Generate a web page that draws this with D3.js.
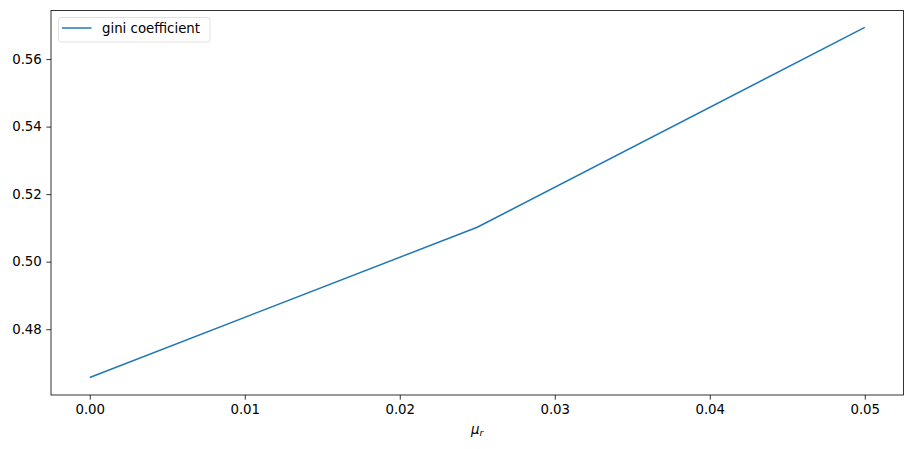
<!DOCTYPE html>
<html><head><meta charset="utf-8">
<script src="https://cdn.jsdelivr.net/npm/d3@7"></script>
<style>body{margin:0;background:#fff}svg{display:block}text{font-family:"DejaVu Sans",sans-serif}</style>
</head><body>
<svg id="c" width="913" height="449"></svg>
<script>
const muR = [0.0, 0.025, 0.05];
const gini = [0.4657, 0.5102, 0.5694];
const xTicks = [0.00, 0.01, 0.02, 0.03, 0.04, 0.05];
const yTicks = [0.48, 0.50, 0.52, 0.54, 0.56];
const seriesName = "gini coefficient";

const svg = d3.select("#c");
const L = 51, R = 903.5, T = 10.5, B = 395;
const x = d3.scaleLinear().domain([-0.0025, 0.0525]).range([L, R]);
const y = d3.scaleLinear().domain([0.46052, 0.57438]).range([B, T]);

const xAxis = svg.append("g").attr("transform", `translate(0,${B})`)
  .call(d3.axisBottom(x).tickValues(xTicks).tickFormat(d3.format(".2f")).tickSizeOuter(0).tickSize(4.67).tickPadding(4.5));
const yAxis = svg.append("g").attr("transform", `translate(${L},0)`)
  .call(d3.axisLeft(y).tickValues(yTicks).tickFormat(d3.format(".2f")).tickSizeOuter(0).tickSize(4.67).tickPadding(4.5));
[xAxis, yAxis].forEach(g => {
  g.select(".domain").remove();
  g.selectAll("text").attr("font-size", "13.33px").attr("fill", "#000").attr("font-family", "DejaVu Sans");
  g.selectAll("line").attr("stroke", "#000").attr("stroke-width", 0.8);
});

svg.append("path").datum(muR.map((d, i) => [d, gini[i]]))
  .attr("fill", "none").attr("stroke", "#1f77b4").attr("stroke-width", 1.5).attr("stroke-linejoin", "round")
  .attr("d", d3.line().x(d => x(d[0])).y(d => y(d[1])));

svg.append("rect").attr("x", L).attr("y", T).attr("width", R - L).attr("height", B - T)
  .attr("fill", "none").attr("stroke", "#000").attr("stroke-width", 0.8);

const lab = svg.append("text").attr("x", (L + R) / 2).attr("y", 434).attr("text-anchor", "middle")
  .attr("font-size", "13.33px").attr("fill", "#000");
lab.append("tspan").attr("font-style", "italic").text("μ");
lab.append("tspan").attr("font-style", "italic").attr("font-size", "9.5px").attr("dy", 2).text("r");

const lg = svg.append("g");
lg.append("rect").attr("x", 58.5).attr("y", 17.5).attr("width", 151.5).attr("height", 24.5).attr("rx", 2.5)
  .attr("fill", "#fff").attr("fill-opacity", 0.8).attr("stroke", "#d9d9d9").attr("stroke-width", 0.8);
lg.append("line").attr("x1", 62).attr("x2", 91.5).attr("y1", 28).attr("y2", 28)
  .attr("stroke", "#1f77b4").attr("stroke-width", 1.5);
lg.append("text").attr("x", 102).attr("y", 33).attr("font-size", "13.33px").attr("fill", "#000").text(seriesName);
</script>
</body></html>
